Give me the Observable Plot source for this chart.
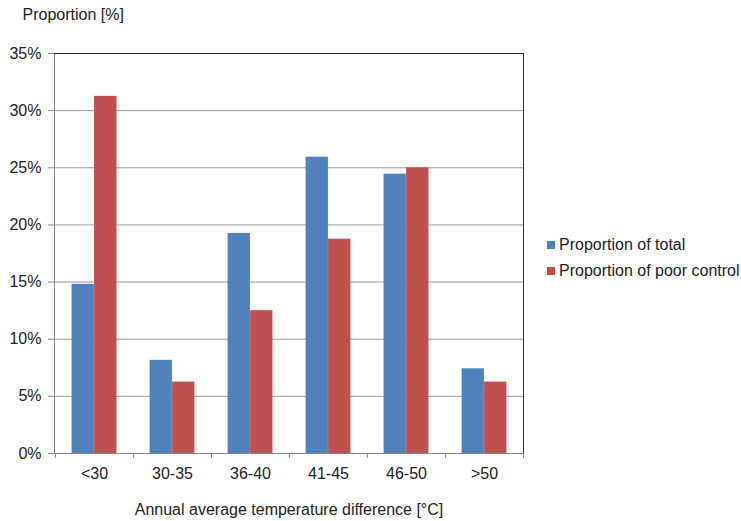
<!DOCTYPE html>
<html>
<head>
<meta charset="utf-8">
<script src="https://cdn.jsdelivr.net/npm/d3@7"></script>
<script src="https://cdn.jsdelivr.net/npm/@observablehq/plot@0.6"></script>
<style>
  html, body { margin: 0; padding: 0; background: #fff; }
  #wrap { position: relative; width: 741px; height: 521px; font-family: "Liberation Sans", Arial, sans-serif; }
  #legend { position: absolute; left: 547px; top: 232px; font-size: 16px; color: #222; line-height: 26px; }
  #legend .row { display: flex; align-items: center; white-space: nowrap; }
  #legend .sw { width: 8px; height: 8px; margin-right: 4px; }
</style>
</head>
<body>
<div id="wrap"><div id="legend"></div></div>
<script>
const categories = ["<30", "30-35", "36-40", "41-45", "46-50", ">50"];
const seriesNames = ["Proportion of total", "Proportion of poor control"];
const seriesColors = ["#4F81BD", "#C0504D"];
const totalValues = [14.8, 8.15, 19.26, 25.93, 24.44, 7.41];
const poorValues = [31.25, 6.25, 12.5, 18.75, 25.0, 6.25];
const yTicks = [0, 5, 10, 15, 20, 25, 30, 35];
const yTitle = "Proportion [%]";
const xTitle = "Annual average temperature difference [°C]";

const width = 741, height = 521;
const mL = 54, mR = 218, mT = 53, mB = 68;
const step = (width - mL - mR) / categories.length;
const barW = 22.5;
const outer = (step - 2 * barW) / 2;

const total = categories.map((c, i) => ({cat: c, v: totalValues[i]}));
const poor = categories.map((c, i) => ({cat: c, v: poorValues[i]}));

const chart = Plot.plot({
  width, height,
  marginLeft: mL, marginRight: mR, marginTop: mT, marginBottom: mB,
  style: {fontFamily: "'Liberation Sans', Arial, sans-serif", fontSize: "16px", color: "#222", background: "#fff"},
  x: {domain: categories, padding: 0},
  y: {domain: [0, 35]},
  marks: [
    Plot.gridY(yTicks, {stroke: "#999", strokeOpacity: 1}),
    Plot.barY(total, {x: "cat", y: "v", fill: seriesColors[0], insetLeft: outer, insetRight: outer + barW}),
    Plot.barY(poor, {x: "cat", y: "v", fill: seriesColors[1], insetLeft: outer + barW, insetRight: outer}),
    Plot.frame({anchor: "left", stroke: "#888"}),
    Plot.frame({anchor: "bottom", stroke: "#888"}),
    Plot.frame({anchor: "top", stroke: "#222"}),
    Plot.frame({anchor: "right", stroke: "#333"}),
    Plot.axisY({ticks: yTicks, tickFormat: d => d + "%", tickSize: 6, tickPadding: 7, stroke: "#888", label: null, fontSize: 16}),
    Plot.axisX({tickSize: 0, tickPadding: 14, label: null, fontSize: 16}),
    Plot.axisX({tickSize: 5, tickFormat: () => "", dx: -step / 2, stroke: "#888", label: null}),
    Plot.axisX({ticks: [categories[categories.length - 1]], tickSize: 5, tickFormat: () => "", dx: step / 2, stroke: "#888", label: null}),
    Plot.text([yTitle], {frameAnchor: "top-left", dx: -32, dy: -34, textAnchor: "start", lineAnchor: "bottom", fontSize: 16, fill: "#222"}),
    Plot.text([xTitle], {frameAnchor: "bottom", dy: 61, lineAnchor: "bottom", fontSize: 16, fill: "#222"})
  ]
});
const wrap = document.getElementById("wrap");
wrap.insertBefore(chart, wrap.firstChild);

const legend = document.getElementById("legend");
seriesNames.forEach((name, i) => {
  const row = document.createElement("div");
  row.className = "row";
  const sw = document.createElement("span");
  sw.className = "sw";
  sw.style.background = seriesColors[i];
  const t = document.createElement("span");
  t.textContent = name;
  row.appendChild(sw); row.appendChild(t);
  legend.appendChild(row);
});
</script>
</body>
</html>
